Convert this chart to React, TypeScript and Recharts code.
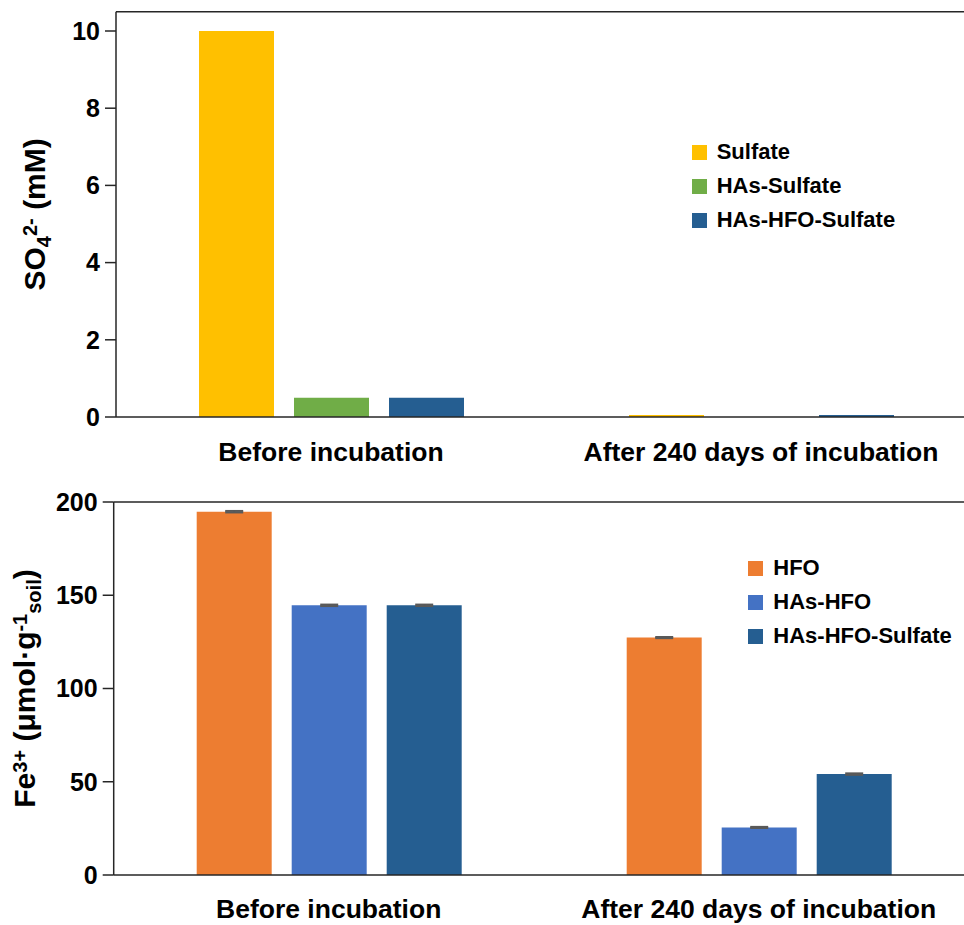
import {
  BarChart,
  Bar,
  XAxis,
  YAxis,
  ReferenceLine,
  Legend,
  Label,
  ErrorBar,
} from 'recharts'

const categories = ['Before incubation', 'After 240 days of incubation']

// SO4 2- (mM)
const so4Series = ['Sulfate', 'HAs-Sulfate', 'HAs-HFO-Sulfate']
const sulfate = [10, 0.05]
const hasSulfate = [0.5, 0]
const hasHfoSulfate = [0.5, 0.05]
const so4Ticks = [0, 2, 4, 6, 8, 10]

// Fe3+ (umol/g soil)
const feSeries = ['HFO', 'HAs-HFO', 'HAs-HFO-Sulfate']
const hfo = [194.8, 127.3]
const hasHfo = [144.6, 25.5]
const hasHfoSulfateFe = [144.6, 54.1]
const hfoErr = [0.4, 0.3]
const hasHfoErr = [0.4, 0.3]
const hasHfoSulfateErr = [0.4, 0.4]
const feTicks = [0, 50, 100, 150, 200]

const so4Data = categories.map((name, i) => ({
  name,
  sulfate: sulfate[i],
  hasSulfate: hasSulfate[i],
  hasHfoSulfate: hasHfoSulfate[i],
}))

const feData = categories.map((name, i) => ({
  name,
  hfo: hfo[i],
  hasHfo: hasHfo[i],
  hasHfoSulfate: hasHfoSulfateFe[i],
  hfoErr: hfoErr[i],
  hasHfoErr: hasHfoErr[i],
  hasHfoSulfateErr: hasHfoSulfateErr[i],
}))

const FONT = '"Liberation Sans", Arial, sans-serif'
const AXIS = '#262626'
const axisStyle = { stroke: AXIS, strokeWidth: 1.5 }
const tickFont = { fontSize: 25, fontWeight: 'bold', fill: '#000' }
const xTickFont = { fontSize: 26.5, fontWeight: 'bold', fill: '#000' }

const makeLegend = (order: string[]) => (props: any) => {
  const items = [...props.payload].sort(
    (a: any, b: any) => order.indexOf(a.value) - order.indexOf(b.value)
  )
  return (
    <div>
      {items.map((entry: any) => (
        <div
          key={entry.value}
          style={{ display: 'flex', alignItems: 'center', height: 34 }}
        >
          <span
            style={{
              display: 'inline-block',
              width: 15,
              height: 15,
              background: entry.color,
              marginRight: 10,
            }}
          />
          <span style={{ fontSize: 22, fontWeight: 'bold', color: '#000' }}>
            {entry.value}
          </span>
        </div>
      ))}
    </div>
  )
}

function So4Label(props: any) {
  const { viewBox } = props
  const cx = 37
  const cy = viewBox.y + viewBox.height / 2
  return (
    <text
      x={cx}
      y={cy}
      transform={`rotate(-90, ${cx}, ${cy})`}
      textAnchor="middle"
      fontSize={30}
      fontWeight="bold"
      fill="#000"
    >
      SO
      <tspan dy={6} fontSize={20}>4</tspan>
      <tspan dy={-14} fontSize={20}>2-</tspan>
      <tspan dy={8}> (mM)</tspan>
    </text>
  )
}

function FeLabel(props: any) {
  const { viewBox } = props
  const cx = 27
  const cy = viewBox.y + viewBox.height / 2
  return (
    <text
      x={cx}
      y={cy}
      transform={`rotate(-90, ${cx}, ${cy})`}
      textAnchor="middle"
      fontSize={30}
      fontWeight="bold"
      fill="#000"
    >
      Fe
      <tspan dy={-8} fontSize={20}>3+</tspan>
      <tspan dy={8}> (μmol·g</tspan>
      <tspan dy={-8} fontSize={20}>-1</tspan>
      <tspan dy={14} fontSize={20}>soil</tspan>
      <tspan dy={-6}>)</tspan>
    </text>
  )
}

export default function App() {
  return (
    <div
      style={{
        position: 'fixed',
        left: 0,
        top: 0,
        width: 964,
        height: 925,
        overflow: 'hidden',
        background: '#fff',
        fontFamily: FONT,
      }}
    >
      <div style={{ position: 'absolute', left: 8, top: 8 }}>
        <BarChart
          width={980}
          height={460}
          data={so4Data}
          margin={{ top: 3.7, right: 12, bottom: 0, left: 0 }}
          barGap={20}
        >
          <XAxis
            dataKey="name"
            height={51}
            axisLine={axisStyle}
            tickLine={false}
            tickSize={0}
            tickMargin={25}
            tick={xTickFont}
            interval={0}
          />
          <XAxis xAxisId="frame" type="number" domain={[0, 2]} allowDataOverflow hide />
          <YAxis
            width={108}
            domain={[0, 10.5]}
            ticks={so4Ticks}
            allowDataOverflow
            axisLine={axisStyle}
            tickLine={axisStyle}
            tickSize={11}
            tickMargin={5}
            tick={tickFont}
          >
            <Label content={So4Label} />
          </YAxis>
          <ReferenceLine y={10.5} stroke={AXIS} strokeWidth={1.5} />
          <ReferenceLine xAxisId="frame" x={1} stroke={AXIS} strokeWidth={1.5} />
          <Bar dataKey="sulfate" name="Sulfate" fill="#FFC000" barSize={75} isAnimationActive={false} />
          <Bar dataKey="hasSulfate" name="HAs-Sulfate" fill="#70AD47" barSize={75} isAnimationActive={false} />
          <Bar dataKey="hasHfoSulfate" name="HAs-HFO-Sulfate" fill="#255E91" barSize={75} isAnimationActive={false} />
          <Legend
            layout="vertical"
            verticalAlign="middle"
            align="center"
            content={makeLegend(so4Series)}
            wrapperStyle={{ left: 683.7, top: 127.3, width: 'auto' }}
          />
        </BarChart>

        <BarChart
          width={980}
          height={457}
          data={feData}
          margin={{ top: 34, right: 14.3, bottom: 0, left: 0 }}
          barGap={20}
        >
          <XAxis
            dataKey="name"
            height={50}
            axisLine={axisStyle}
            tickLine={false}
            tickSize={0}
            tickMargin={24}
            tick={xTickFont}
            interval={0}
          />
          <XAxis xAxisId="frame" type="number" domain={[0, 2]} allowDataOverflow hide />
          <YAxis
            width={105.7}
            domain={[0, 200]}
            ticks={feTicks}
            axisLine={axisStyle}
            tickLine={axisStyle}
            tickSize={11}
            tickMargin={5}
            tick={tickFont}
          >
            <Label content={FeLabel} />
          </YAxis>
          <ReferenceLine y={200} stroke={AXIS} strokeWidth={1.5} />
          <ReferenceLine xAxisId="frame" x={1} stroke={AXIS} strokeWidth={1.5} />
          <Bar dataKey="hfo" name="HFO" fill="#ED7D31" barSize={75} isAnimationActive={false}>
            <ErrorBar dataKey="hfoErr" width={9} stroke="#595959" strokeWidth={2} isAnimationActive={false} />
          </Bar>
          <Bar dataKey="hasHfo" name="HAs-HFO" fill="#4472C4" barSize={75} isAnimationActive={false}>
            <ErrorBar dataKey="hasHfoErr" width={9} stroke="#595959" strokeWidth={2} isAnimationActive={false} />
          </Bar>
          <Bar dataKey="hasHfoSulfate" name="HAs-HFO-Sulfate" fill="#255E91" barSize={75} isAnimationActive={false}>
            <ErrorBar dataKey="hasHfoSulfateErr" width={9} stroke="#595959" strokeWidth={2} isAnimationActive={false} />
          </Bar>
          <Legend
            layout="vertical"
            verticalAlign="middle"
            align="center"
            content={makeLegend(feSeries)}
            wrapperStyle={{ left: 740.3, top: 83.3, width: 'auto' }}
          />
        </BarChart>
      </div>
    </div>
  )
}
